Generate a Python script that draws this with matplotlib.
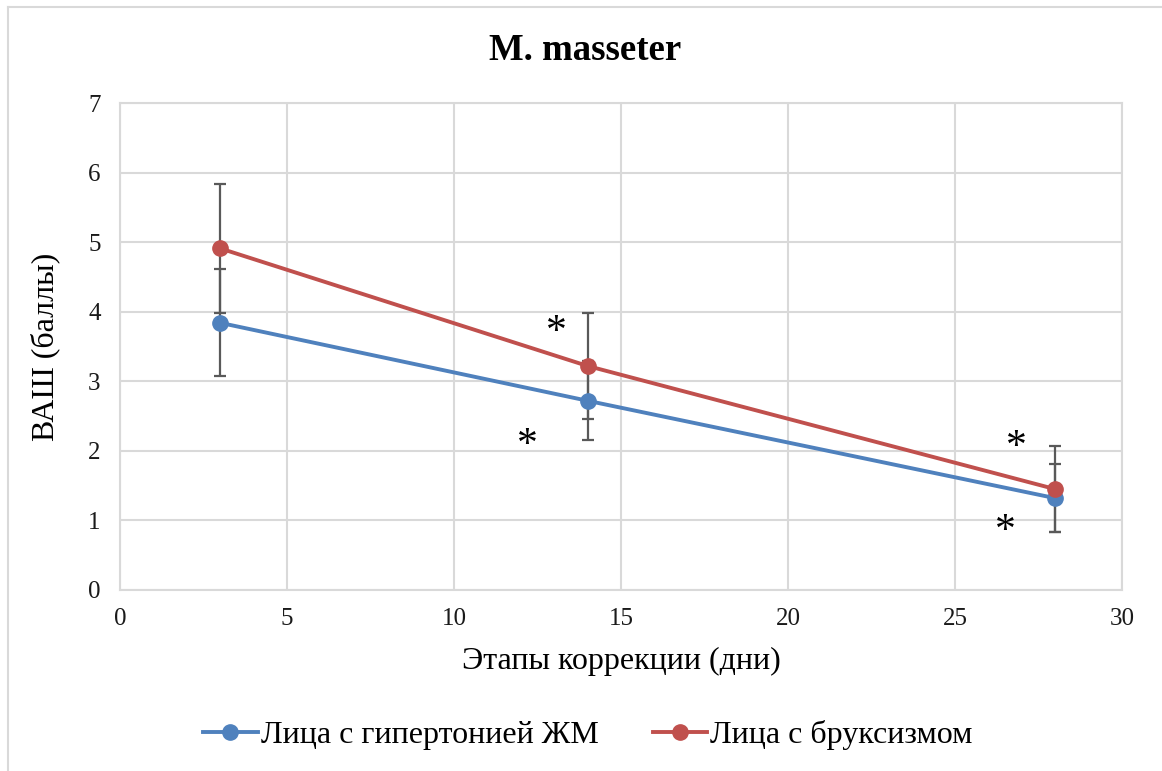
import matplotlib
matplotlib.use("Agg")
import matplotlib.pyplot as plt
from matplotlib.lines import Line2D

plt.rcParams['font.family'] = ['Liberation Serif', 'DejaVu Serif']

# Data
days = [3, 14, 28]
hypertonia = [3.84, 2.72, 1.32]
hypertonia_err = [0.77, 0.57, 0.49]
bruxism = [4.91, 3.22, 1.45]
bruxism_err = [0.93, 0.76, 0.62]
series_labels = ["Лица с гипертонией ЖМ", "Лица с бруксизмом"]
star_x = [13.07, 12.2, 26.83, 26.5]
star_y = [3.86, 2.24, 2.21, 1.0]

blue = "#4F81BD"
red = "#C0504D"
grid_c = "#D9D9D9"
err_c = "#595959"

fig = plt.figure(figsize=(11.62, 7.71), dpi=100)
W, H = 1162, 771
ax = fig.add_axes([120 / W, (H - 590) / H, (1122 - 120) / W, (590 - 103) / H])

ax.set_xlim(0, 30)
ax.set_ylim(0, 7)
ax.set_xticks(range(0, 31, 5))
ax.set_yticks(range(0, 8))
ax.grid(True, color=grid_c, linewidth=1.5)
ax.set_axisbelow(True)
for s in ax.spines.values():
    s.set_color(grid_c)
    s.set_linewidth(1.5)
ax.tick_params(length=0, labelsize=18, colors="#1a1a1a")
ax.tick_params(axis='y', pad=14)
ax.tick_params(axis='x', pad=13)

for vals, errs in ((hypertonia, hypertonia_err), (bruxism, bruxism_err)):
    ax.errorbar(days, vals, yerr=errs, fmt='none', ecolor=err_c,
                elinewidth=1.6, capsize=4.5, capthick=1.6, zorder=2)

ax.plot(days, hypertonia, color=blue, lw=2.8, marker='o', ms=11, zorder=3)
ax.plot(days, bruxism, color=red, lw=2.8, marker='o', ms=11, zorder=4)

for x, y in zip(star_x, star_y):
    ax.annotate("*", (x, y), xytext=(0, -8), textcoords='offset points',
                fontsize=30, ha='center', va='center', color='black', zorder=5)

ax.set_xlabel("Этапы коррекции (дни)", fontsize=23, labelpad=12)
ax.set_ylabel("ВАШ (баллы)", fontsize=23, labelpad=20)
fig.text(585 / W, 1 - 50 / H, "M. masseter", fontsize=26.5, fontweight='bold',
         ha='center', va='center')

handles = [Line2D([0], [0], color=blue, lw=2.8, marker='o', ms=11),
           Line2D([0], [0], color=red, lw=2.8, marker='o', ms=11)]
fig.legend(handles, series_labels, loc='center', bbox_to_anchor=(588 / W, 1 - 735 / H),
           ncol=2, frameon=False, fontsize=23, handlelength=1.7, handletextpad=0.1,
           columnspacing=1.7)

# chart-area border (top and left edges)
fig.add_artist(Line2D([8 / W, 1], [1 - 7 / H, 1 - 7 / H], color=grid_c, lw=1.5,
                      transform=fig.transFigure))
fig.add_artist(Line2D([8 / W, 8 / W], [0, 1 - 7 / H], color=grid_c, lw=1.5,
                      transform=fig.transFigure))

fig.savefig("out.png", dpi=100)
